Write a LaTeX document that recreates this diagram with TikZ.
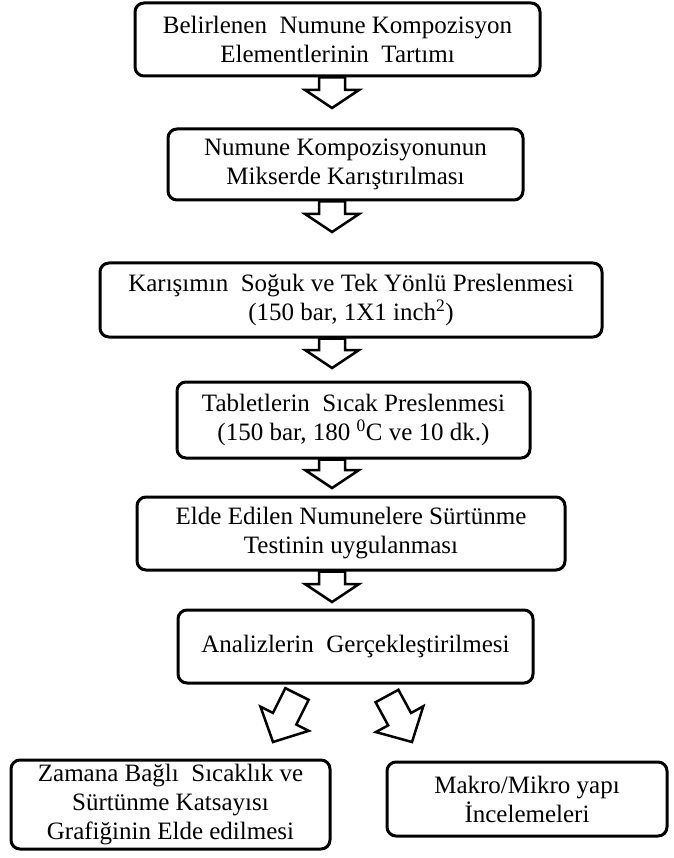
\documentclass[tikz,border=0pt]{standalone}
\usepackage{fontspec}
\setmainfont{Liberation Serif}
\usetikzlibrary{calc}

% hollow block arrow: #1 head length, #2 start, #3 tip
\newcommand{\hollowarrow}[3]{%
  \coordinate (hahead) at ($(#3)!#1!(#2)$);
  \draw[flowarrow] ($(#2)!13pt!90:(#3)$) -- ($(hahead)!13pt!90:(#3)$)
    -- ($(hahead)!27pt!90:(#3)$) -- (#3) -- ($(hahead)!27pt!-90:(#3)$)
    -- ($(hahead)!13pt!-90:(#3)$) -- ($(#2)!13pt!-90:(#3)$) -- cycle;}

\begin{document}
\begin{tikzpicture}[x=1pt,y=-1pt,
  procbox/.style={draw,line width=3pt,rounded corners=9pt,align=center,
    inner sep=0pt,font=\fontsize{25}{29}\selectfont},
  flowarrow/.style={draw,line width=2.5pt,fill=white,line join=miter}]
\useasboundingbox (0,0) rectangle (673,858);

\node[procbox,minimum width=405pt,minimum height=73pt] (weigh) at (337.5,39.5)
  {Belirlenen\ \ Numune Kompozisyon\\Elementlerinin\ \ Tartımı};
\node[procbox,minimum width=355pt,minimum height=71pt] (mix) at (345.5,164.5)
  {Numune Kompozisyonunun\\Mikserde Karıştırılması};
\node[procbox,minimum width=502pt,minimum height=74pt] (coldpress) at (351,300)
  {Karışımın\ \ Soğuk ve Tek Yönlü\ Preslenmesi\\(150 bar, 1X1 inch\textsuperscript{2})};
\node[procbox,minimum width=353pt,minimum height=76pt] (hotpress) at (353.5,420)
  {Tabletlerin\ \ Sıcak Preslenmesi\\(150 bar, 180 \textsuperscript{0}C ve 10 dk.)};
\node[procbox,minimum width=428pt,minimum height=73pt] (friction) at (351,533.5)
  {Elde Edilen\ Numunelere Sürtünme\\Testinin uygulanması};
\node[procbox,minimum width=355pt,minimum height=73pt] (analysis) at (355.5,646.5)
  {Analizlerin\ \ Gerçekleştirilmesi};
\node[procbox,minimum width=319pt,minimum height=89pt] (graph) at (170.5,804.5)
  {Zamana Bağlı\ \ Sıcaklık ve\\Sürtünme Katsayısı\\Grafiğinin\ Elde edilmesi};
\node[procbox,minimum width=280pt,minimum height=74pt] (micro) at (527,799)
  {Makro/Mikro yapı\\İncelemeleri};

\coordinate (tip1) at (332,108);
\coordinate (tip2) at (332,232);
\coordinate (tip3) at (332,368);
\coordinate (tip4) at (332,488);
\coordinate (tip5) at (332,602);
\coordinate (from1) at (weigh.south -| tip1);
\coordinate (from2) at (mix.south -| tip2);
\coordinate (from3) at (coldpress.south -| tip3);
\coordinate (from4) at (hotpress.south -| tip4);
\coordinate (from5) at (friction.south -| tip5);
\coordinate (fromleft) at (297,694);
\coordinate (tipleft) at (273,742);
\coordinate (fromright) at (387,696);
\coordinate (tipright) at (412,742);

\hollowarrow{18pt}{from1}{tip1}
\hollowarrow{18pt}{from2}{tip2}
\hollowarrow{18pt}{from3}{tip3}
\hollowarrow{18pt}{from4}{tip4}
\hollowarrow{18pt}{from5}{tip5}
\hollowarrow{26pt}{fromleft}{tipleft}
\hollowarrow{26pt}{fromright}{tipright}
\end{tikzpicture}
\end{document}
